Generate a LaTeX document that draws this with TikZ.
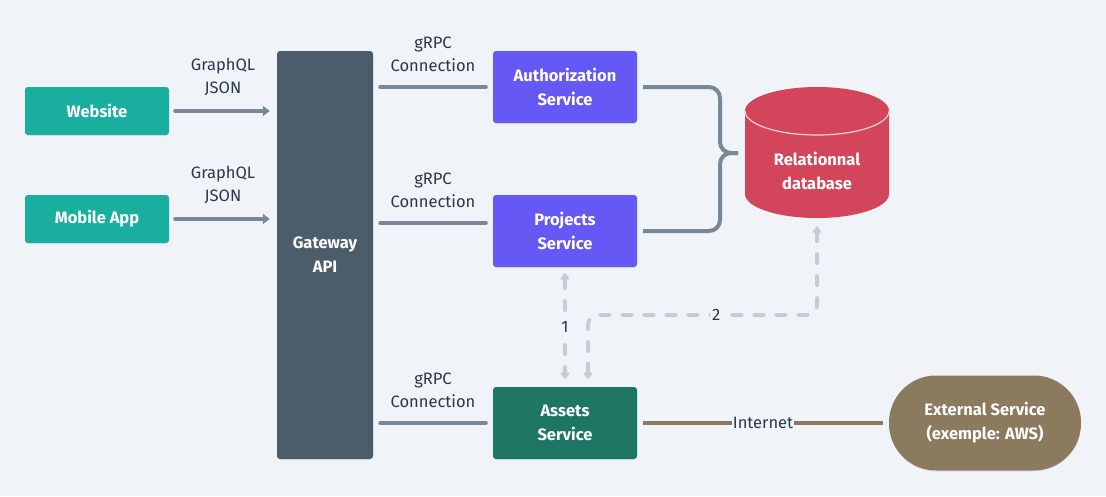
\documentclass[tikz,border=0pt]{standalone}
\usepackage{fontspec}
\setmainfont{Fira Sans}
\usetikzlibrary{arrows.meta,shadows}

\definecolor{bg}{HTML}{F0F3F7}
\definecolor{clientcol}{HTML}{1AAE9F}
\definecolor{gatewaycol}{HTML}{4B5C6B}
\definecolor{servicecol}{HTML}{6558F5}
\definecolor{assetscol}{HTML}{1E7765}
\definecolor{dbcol}{HTML}{D3455B}
\definecolor{extcol}{HTML}{8B7A5E}
\definecolor{linkcol}{HTML}{788896}
\definecolor{dashcol}{HTML}{C3CDD7}
\definecolor{labelcol}{HTML}{2B3847}

\tikzset{
  plain/.style={rectangle, text=white, align=center,
    font=\fontsize{16.5}{24}\selectfont\bfseries, inner sep=0pt},
  box/.style={plain, rounded corners=3pt,
    drop shadow={opacity=0.12, shadow xshift=0pt, shadow yshift=-1pt}},
  svcbox/.style={box, minimum width=144pt, minimum height=72pt},
  clientbox/.style={box, fill=clientcol, minimum width=144pt, minimum height=48pt},
  lbl/.style={text=labelcol, align=center, font=\fontsize{16.5}{23}\selectfont},
  link/.style={draw=linkcol, line width=4pt, line cap=round},
  flow/.style={link, -{Triangle[width=10pt,length=7pt]}, shorten <=6pt, shorten >=7pt},
  dashlink/.style={draw=dashcol, line width=4pt, line cap=round, dash pattern=on 9pt off 13pt,
    {Triangle[width=10pt,length=7pt,round]}-{Triangle[width=10pt,length=7pt,round]}},
}

\begin{document}
\begin{tikzpicture}[x=1pt,y=-1pt]
  % background and page size
  \fill[bg] (0,0) rectangle (1106,496);

  % clients
  \node[clientbox] (website) at (97,111) {Website};
  \node[clientbox] (mobile)  at (97,219) {Mobile App};

  % gateway
  \node[box, fill=gatewaycol, minimum width=96pt, minimum height=408pt] (gateway) at (325,255) {Gateway\\API};

  % services
  \node[svcbox, fill=servicecol] (auth)     at (565,87)  {Authorization\\Service};
  \node[svcbox, fill=servicecol] (projects) at (565,231) {Projects\\Service};
  \node[svcbox, fill=assetscol]  (assets)   at (565,423) {Assets\\Service};

  % external service
  \node[box, fill=extcol, rounded corners=47pt, minimum width=192pt, minimum height=95pt] (external) at (985,423) {External Service\\(exemple: AWS)};

  % database cylinder
  \fill[dbcol] (745,111) -- (745,194) arc[start angle=180, end angle=360, x radius=72pt, y radius=24pt]
    -- (889,111) arc[start angle=0, end angle=180, x radius=72pt, y radius=24pt] -- cycle;
  \draw[white!75!dbcol, line width=1.2pt] (745,111) arc[start angle=180, end angle=360, x radius=72pt, y radius=24pt];
  \node[plain, minimum width=144pt, minimum height=94pt] (db) at (817,171) {Relationnal\\database};
  \coordinate (dbin) at (738,153);

  % client requests
  \draw[flow] (website) -- (website -| gateway.west)
    node[lbl, midway, above, yshift=10pt] {GraphQL\\JSON};
  \draw[flow] (mobile) -- (mobile -| gateway.west)
    node[lbl, midway, above, yshift=10pt] {GraphQL\\JSON};

  % gRPC connections
  \draw[link, shorten <=7pt, shorten >=7pt] (gateway.east |- auth) -- (auth.west)
    node[lbl, midway, above, yshift=10pt] {gRPC\\Connection};
  \draw[link, shorten <=7pt, shorten >=7pt] (gateway.east |- 0,223) -- ([yshift=8pt]projects.west)
    node[lbl, midway, above, yshift=10pt] {gRPC\\Connection};
  \draw[link, shorten <=7pt, shorten >=7pt] (gateway.east |- assets) -- (assets.west)
    node[lbl, midway, above, yshift=10pt] {gRPC\\Connection};

  % brace towards the database
  \draw[link, line cap=butt, rounded corners=11pt] ([xshift=6pt]auth.east) -- (720,87) -- (720,153) -- (dbin);
  \draw[link, line cap=butt, rounded corners=11pt] ([xshift=6pt]projects.east) -- (720,231) -- (720,153) -- (dbin);

  % assets access
  \draw[dashlink, shorten <=6pt, shorten >=8pt] (projects.south) -- (assets.north)
    node[lbl, midway, fill=bg, inner sep=2pt] {1};
  \draw[dashlink, rounded corners=10pt] ([yshift=-8pt]db.south) -- (817,315) -| ([xshift=23pt,yshift=8pt]assets.north)
    node[lbl, pos=0.22, fill=bg, inner sep=2pt] {2};

  % internet
  \draw[draw=extcol, line width=4pt, shorten <=6pt, shorten >=6pt] (assets) -- (external)
    node[lbl, midway, fill=bg, inner sep=1pt] {Internet};
\end{tikzpicture}
\end{document}
